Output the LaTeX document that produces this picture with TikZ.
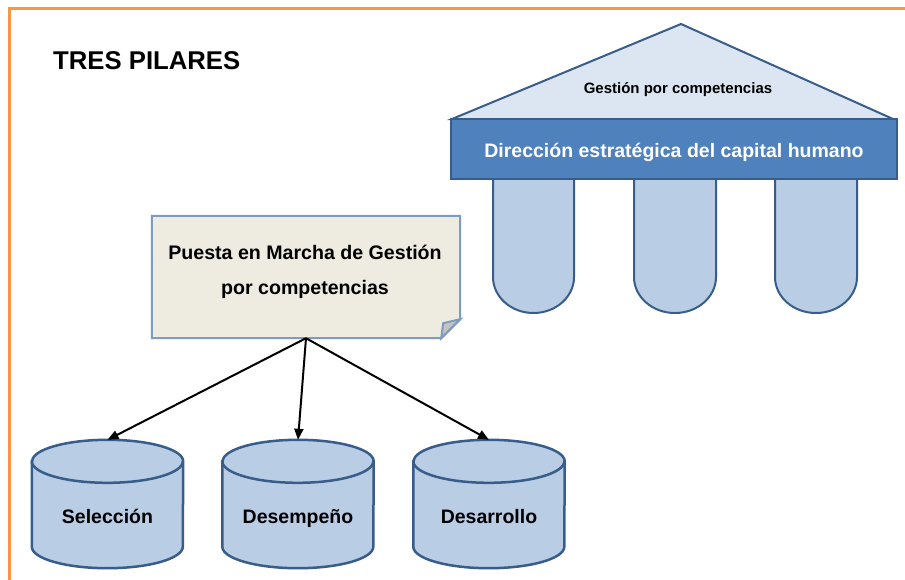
\documentclass[tikz,border=0pt]{standalone}
\usepackage{fontspec}
\setmainfont{Liberation Sans}
\usetikzlibrary{arrows.meta,calc}
\definecolor{frameorange}{HTML}{F79646}
\definecolor{darkblue}{HTML}{385D8A}
\definecolor{midblue}{HTML}{4F81BD}
\definecolor{lightblue}{HTML}{B9CDE5}
\definecolor{paleblue}{HTML}{DCE6F2}
\definecolor{notefillc}{HTML}{EEECE1}
\definecolor{notelinec}{HTML}{7F9BBF}
\definecolor{foldgray}{HTML}{C4C4C4}
\tikzset{
  frameline/.style={draw=frameorange,line width=3pt},
  roofshape/.style={fill=paleblue,draw=darkblue,line width=2pt,line join=miter},
  pillarshape/.style={fill=lightblue,draw=darkblue,line width=2pt},
  bannerbox/.style={fill=midblue,draw=darkblue,line width=2pt,minimum width=446pt,minimum height=60pt,inner sep=0pt,text height=20pt,text depth=4pt,text=white,font=\fontsize{19.5}{22}\selectfont\bfseries},
  rooflabel/.style={inner sep=0pt,anchor=base,font=\fontsize{15}{17}\selectfont\bfseries},
  titlelabel/.style={inner sep=0pt,anchor=base west,font=\fontsize{25.7}{28}\selectfont\bfseries},
  notebox/.style={draw=none,minimum width=308pt,minimum height=122pt,inner sep=0pt},
  notefillstyle/.style={fill=notefillc,draw=notelinec,line width=2pt,line join=miter},
  foldstyle/.style={fill=foldgray,draw=notelinec,line width=2pt,line join=miter},
  notelabel/.style={inner sep=0pt,anchor=base,font=\fontsize{19.6}{22}\selectfont\bfseries},
  cylbox/.style={draw=none,minimum width=151pt,minimum height=128pt,inner sep=0pt},
  cylbody/.style={fill=lightblue,draw=darkblue,line width=2.5pt},
  cylline/.style={draw=darkblue,line width=2.5pt},
  cyllabel/.style={inner sep=0pt,anchor=base,font=\fontsize{19.5}{22}\selectfont\bfseries},
  arr/.style={draw=black,line width=2pt,-{Triangle[length=11pt,width=9pt]}}
}
\begin{document}
\begin{tikzpicture}[x=1pt,y=-1pt]
\useasboundingbox (0,0) rectangle (905,579);
\fill[white] (0,0) rectangle (905,579);
% frame
\draw[frameline] (9,580) -- (9,8) -- (906,8);
% title
\node[titlelabel] (title) at (53,69) {TRES PILARES};
% temple
\filldraw[roofshape] (452,119) -- (681,24) -- (893,119) -- cycle;
\node[rooflabel] (rooftext) at (678,93.5) {Gestión por competencias};
\foreach \a/\b in {493/574,634/716,775/857}
  \filldraw[pillarshape] (\a,175) -- (\a,277) arc[start angle=180,end angle=0,x radius={(\b-\a)/2},y radius=36] -- (\b,175);
\node[bannerbox] (banner) at (674,149) {Dirección estratégica del capital humano};
% note
\node[notebox] (note) at (306,277) {};
\path[notefillstyle] (note.north west) -- (note.north east) -- ($(note.south east)+(0,-19)$) -- ($(note.south east)+(-19,0)$) -- (note.south west) -- cycle;
\path[foldstyle] ($(note.south east)+(0,-19)$) -- ($(note.south east)+(-17,-15)$) -- ($(note.south east)+(-19,0)$) -- cycle;
\node[notelabel] (notetext1) at (305,259) {Puesta en Marcha de Gestión};
\node[notelabel] (notetext2) at (305,294) {por competencias};
% cylinders
\foreach \n/\x/\t in {c1/107.5/Selección,c2/298/Desempeño,c3/489/Desarrollo}{
  \node[cylbox] (\n) at (\x,504) {};
  \path[cylbody] ($(\n.north west)+(0,21.5)$) -- ($(\n.south west)+(0,-21.5)$)
     arc[start angle=180,end angle=0,x radius=75.5,y radius=21.5]
     -- ($(\n.north east)+(0,21.5)$)
     arc[start angle=0,end angle=-180,x radius=75.5,y radius=21.5] -- cycle;
  \draw[cylline] ($(\n.north west)+(0,21.5)$) arc[start angle=180,end angle=0,x radius=75.5,y radius=21.5];
  \node[cyllabel] (\n t) at ($(\n.center)+(0,19)$) {\t};
}
% arrows
\draw[arr] (note.south) -- (c1.north);
\draw[arr] (note.south) -- (c2.north);
\draw[arr] (note.south) -- (c3.north);
\end{tikzpicture}
\end{document}
